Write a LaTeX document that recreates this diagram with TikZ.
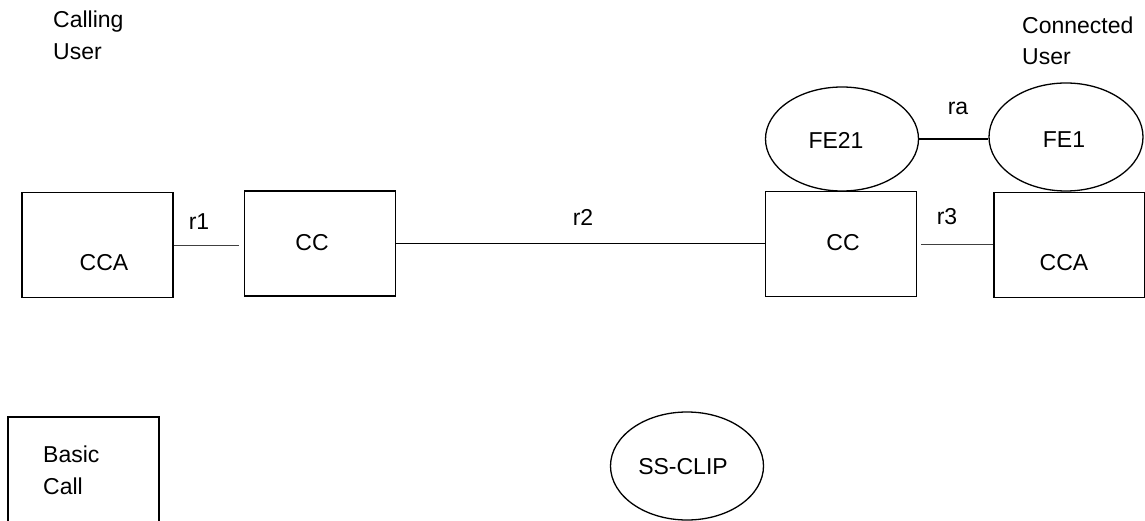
\documentclass[tikz,border=0pt]{standalone}
\usepackage{fontspec}
\setmainfont{Liberation Sans}
\usetikzlibrary{shapes.geometric}
\begin{document}
\begin{tikzpicture}[x=1pt,y=-1pt,
  every node/.style={font=\fontsize{23}{31.5}\selectfont},
  box/.style={draw,line width=1.7pt,minimum width=151pt,minimum height=105pt,inner sep=0pt},
  fe/.style={draw,ellipse,line width=1.3pt,minimum width=153pt,minimum height=104pt,inner sep=0pt},
  link/.style={line width=1.1pt},
  thin link/.style={line width=0.9pt,black!75},
  lbl/.style={inner sep=0pt},
  txt/.style={align=left,inner sep=0pt,anchor=west}]
\useasboundingbox (0,0) rectangle (1145,521);
% boxes
\node[box] (ccaL) at (97.5,245) {};
\node[box] (ccL) at (320,243.5) {};
\node[box] (ccR) at (841,244) {};
\node[box] (ccaR) at (1069.5,245) {};
\node[box,minimum height=130pt] (basic) at (83.5,482) {};
% box texts
\node[lbl] (tccaL) at (104,263) {CCA};
\node[lbl] (tccL) at (312,243) {CC};
\node[lbl] (tccR) at (843,243) {CC};
\node[lbl] (tccaR) at (1064,263) {CCA};
\node[txt] (tbasic) at (43,470.5) {Basic\\Call};
% ellipses
\node[fe] (fe21) at (842,139) {};
\node[fe,minimum width=154pt,minimum height=108pt] (fe1) at (1066,137) {};
\node[fe,minimum height=108pt] (ss) at (687,466) {};
\node[lbl] (tfe21) at (836,140) {FE21};
\node[lbl] (tfe1) at (1064,140) {FE1};
\node[lbl] (tss) at (683,467) {SS-CLIP};
% connectors
\draw[thin link,shorten >=5pt] (ccaL.east) -- (ccaL.east -| ccL.west);
\draw[link] (ccL.east) -- (ccL.east -| ccR.west);
\draw[thin link,shorten <=4pt] (ccR.east) -- (ccR.east -| ccaR.west);
\draw[link] (fe21.east) -- (fe21.east -| fe1.west);
% connector labels
\node[lbl] (r1) at (199,222) {r1};
\node[lbl] (r2) at (583,217) {r2};
\node[lbl] (r3) at (947,217) {r3};
\node[lbl] (ra) at (958,108) {ra};
% user labels
\node[txt] (calling) at (53,35.5) {Calling\\User};
\node[txt] (connected) at (1022,41) {Connected\\User};
\end{tikzpicture}
\end{document}
